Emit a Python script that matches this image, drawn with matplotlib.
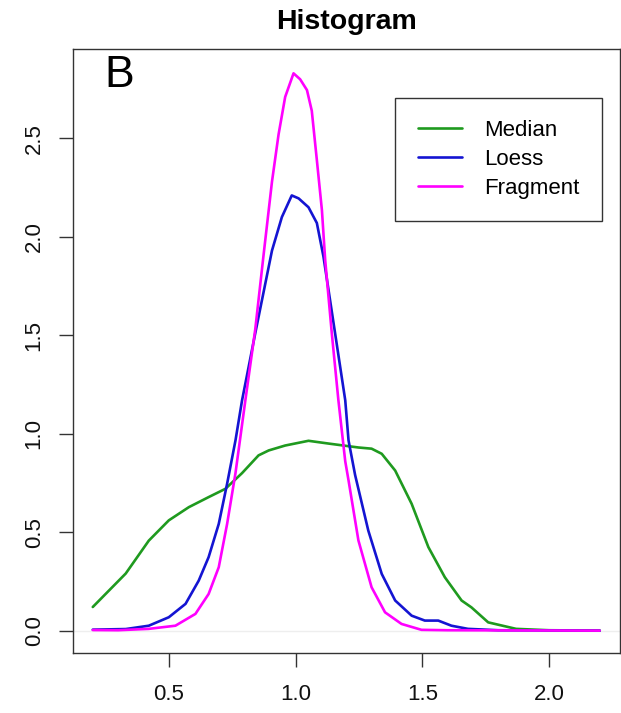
import numpy as np
import matplotlib
matplotlib.use("Agg")
from matplotlib import pyplot as plt

plt.rcParams['font.family'] = ['Liberation Sans', 'DejaVu Sans']

# --------------------- data ---------------------
median_x = [0.2, 0.33, 0.421, 0.5, 0.579, 0.657, 0.723, 0.789, 0.854, 0.894,
            0.959, 1.051, 1.13, 1.248, 1.30, 1.34, 1.393, 1.458, 1.524, 1.589,
            1.655, 1.694, 1.76, 1.87, 2.0, 2.2]
median_y = [0.12, 0.29, 0.457, 0.56, 0.627, 0.678, 0.72, 0.80, 0.89, 0.915,
            0.94, 0.964, 0.95, 0.93, 0.924, 0.898, 0.813, 0.644, 0.424, 0.271,
            0.153, 0.118, 0.042, 0.009, 0.002, 0.0]

loess_x = [0.2, 0.33, 0.421, 0.5, 0.566, 0.618, 0.657, 0.697, 0.73, 0.763,
           0.789, 0.841, 0.907, 0.946, 0.985, 1.012, 1.051, 1.084, 1.11, 1.156,
           1.196, 1.209, 1.235, 1.287, 1.34, 1.393, 1.458, 1.51, 1.563, 1.615,
           1.68, 1.8, 2.2]
loess_y = [0.005, 0.008, 0.025, 0.068, 0.136, 0.254, 0.373, 0.542, 0.746, 0.966,
           1.17, 1.51, 1.93, 2.10, 2.21, 2.195, 2.15, 2.07, 1.90, 1.51,
           1.17, 0.966, 0.79, 0.508, 0.288, 0.153, 0.076, 0.051, 0.051, 0.025,
           0.009, 0.002, 0.0]

frag_x = [0.2, 0.3, 0.421, 0.526, 0.605, 0.657, 0.697, 0.73, 0.763, 0.802,
          0.841, 0.874, 0.907, 0.933, 0.959, 0.992, 1.018, 1.045, 1.064, 1.084,
          1.104, 1.117, 1.143, 1.169, 1.196, 1.209, 1.248, 1.30, 1.353, 1.418,
          1.497, 1.6, 2.2]
frag_y = [0.003, 0.002, 0.009, 0.025, 0.085, 0.186, 0.322, 0.542, 0.80, 1.17,
          1.53, 1.91, 2.28, 2.52, 2.71, 2.83, 2.80, 2.745, 2.64, 2.39,
          2.135, 1.88, 1.51, 1.17, 0.86, 0.763, 0.458, 0.22, 0.093, 0.034,
          0.004, 0.002, 0.0]

series_names = ["Median", "Loess", "Fragment"]
series_colors = ["#1f9a1f", "#1414d2", "#ff00ff"]

x_ticks = [0.5, 1.0, 1.5, 2.0]
y_ticks = [0.0, 0.5, 1.0, 1.5, 2.0, 2.5]

# --------------------- figure ---------------------
fig = plt.figure(figsize=(6.21, 7.13), dpi=100)
ax = fig.add_axes([72.5 / 621, 1 - 653 / 713, 547.5 / 621, 604 / 713])

ax.axhline(0, color="#eeeeee", lw=1.0, zorder=0)
for xs, ys, name, col in zip([median_x, loess_x, frag_x],
                             [median_y, loess_y, frag_y],
                             series_names, series_colors):
    ax.plot(xs, ys, color=col, lw=1.9, label=name,
            solid_capstyle="round", solid_joinstyle="round")

ax.set_xlim(0.12, 2.28)
ax.set_ylim(-0.1136, 2.9536)
ax.set_xticks(x_ticks)
ax.set_xticklabels([f"{v:.1f}" for v in x_ticks])
ax.set_yticks(y_ticks)
ax.set_yticklabels([f"{v:.1f}" for v in y_ticks])

ax.tick_params(axis="both", direction="out", length=10, width=1.0,
               color="#333333", labelsize=16, labelcolor="#111111")
ax.tick_params(axis="x", pad=12)
ax.tick_params(axis="y", pad=10)
for lab in ax.get_yticklabels():
    lab.set_rotation(90)
    lab.set_va("center")

for sp in ax.spines.values():
    sp.set_color("#333333")
    sp.set_linewidth(1.0)

# panel letter
ax.text(0.305, 2.82, "B", fontsize=32, ha="center", va="center", color="black")

leg = ax.legend(loc="upper right", bbox_to_anchor=(0.967, 0.919),
                borderaxespad=0, fontsize=16, fancybox=False, framealpha=1,
                edgecolor="#333333", handlelength=2.0, handletextpad=1.0,
                borderpad=1.0, labelspacing=0.36)
leg.get_frame().set_linewidth(1.0)

fig.text(346 / 621, 1 - 22 / 713, "Histogram", fontsize=20.5, fontweight="bold",
         ha="center", va="center")

fig.savefig("out.png", dpi=100)
